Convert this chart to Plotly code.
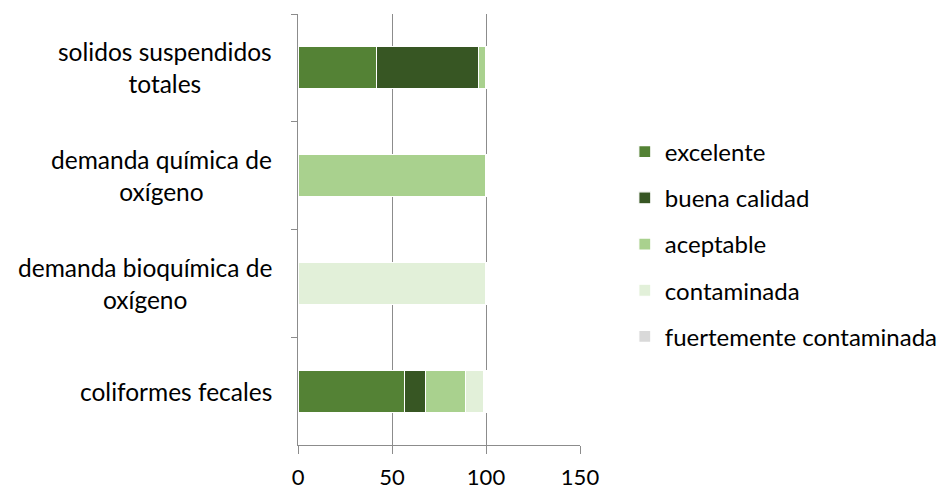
import plotly.graph_objects as go

categories = ["solidos suspendidos<br>totales", "demanda química de<br>oxígeno",
              "demanda bioquímica de<br>oxígeno", "coliformes fecales"]
series_names = ["excelente", "buena calidad", "aceptable", "contaminada", "fuertemente contaminada"]
excelente = [41.6, 0, 0, 56.5]
buena_calidad = [54.3, 0, 0, 11.4]
aceptable = [4.1, 100, 0, 21.3]
contaminada = [0, 0, 100, 9.7]
fuertemente_contaminada = [0, 0, 0, 1.1]
x_ticks = [0, 50, 100, 150]

values = [excelente, buena_calidad, aceptable, contaminada, fuertemente_contaminada]
colors = ["#548235", "#375623", "#A9D18E", "#E2F0D9", "#D9D9D9"]
FONT = "Lato"

fig = go.Figure()
for name, vals, col in zip(series_names, values, colors):
    fig.add_trace(go.Bar(
        y=categories, x=vals, name=name, orientation="h",
        marker=dict(color=col, line=dict(color="white", width=1.2)),
        legendgroup=name,
    ))

for c in categories:
    fig.add_annotation(x=0, xref="paper", xanchor="right", xshift=-24,
                       y=c, yref="y", text=c, showarrow=False, align="center",
                       font=dict(family=FONT, size=24.5, color="#000000"))

fig.update_layout(
    width=951, height=492,
    margin=dict(l=298, r=371, t=14, b=47, autoexpand=False),
    barmode="stack", bargap=0.61,
    plot_bgcolor="white", paper_bgcolor="white",
    font=dict(family=FONT, size=24, color="#000000"),
    legend=dict(xref="container", yref="container", x=0.657, xanchor="left",
                y=0.504, yanchor="middle",
                traceorder="grouped", tracegroupgap=12,
                font=dict(family=FONT, size=24, color="#000000")),
    xaxis=dict(range=[0, 150], tickvals=x_ticks, showgrid=True, gridcolor="#8c8c8c",
               gridwidth=1, zeroline=False, showline=True, linecolor="#8c8c8c",
               ticks="outside", ticklen=8, tickcolor="#8c8c8c", ticklabelstandoff=5,
               tickfont=dict(family=FONT, size=22, color="#000000")),
    yaxis=dict(categoryorder="array", categoryarray=categories, autorange="reversed",
               showticklabels=False, showgrid=False, showline=True, linecolor="#8c8c8c",
               ticks="outside", ticklen=6, tickcolor="#8c8c8c", tickson="boundaries"),
)

fig.write_html("out.html")
